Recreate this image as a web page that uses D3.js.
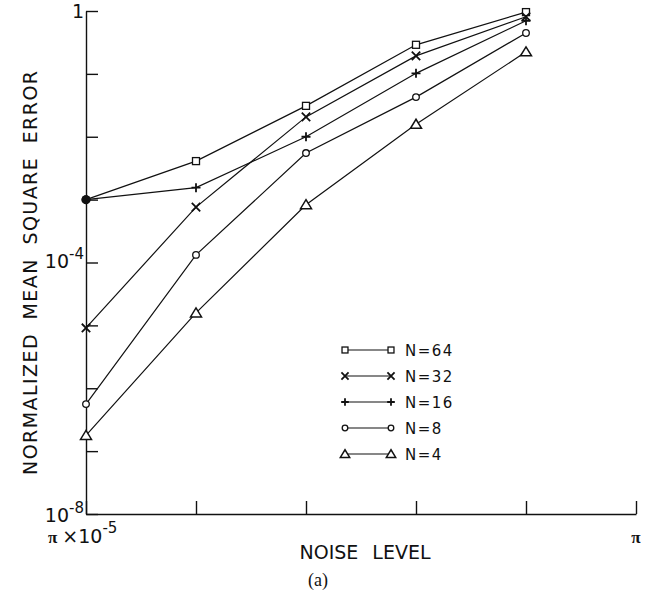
<!DOCTYPE html>
<html><head><meta charset="utf-8">
<script src="https://cdn.jsdelivr.net/npm/d3@7"></script>
<style>body{margin:0;background:#fff}svg{display:block}</style>
</head><body><svg id="c" width="653" height="596"></svg>
<script>
// ---- data ----
const PI = Math.PI;
const noiseLevels = [PI*1e-5, PI*1e-4, PI*1e-3, PI*1e-2, PI*1e-1];
const seriesNames = ["N=64", "N=32", "N=16", "N=8", "N=4"];
const markerTypes = ["square", "x", "plus", "circle", "triangle"];
const mse64 = [1.0e-3, 4.1e-3, 3.1e-2, 0.29, 0.96];
const mse32 = [9.1e-6, 7.6e-4, 2.07e-2, 0.193, 0.81];
const mse16 = [1.0e-3, 1.55e-3, 1.0e-2, 0.102, 0.70];
const mse8  = [5.6e-7, 1.32e-4, 5.5e-3, 4.27e-2, 0.447];
const mse4  = [1.78e-7, 1.58e-5, 8.3e-4, 1.58e-2, 0.224];
const yTickValues = [1e-8, 1e-7, 1e-6, 1e-5, 1e-4, 1e-3, 1e-2, 1e-1, 1];
const xTickValues = [PI*1e-5, PI*1e-4, PI*1e-3, PI*1e-2, PI*1e-1, PI];
const yLabels = [{v:1, base:"1", exp:""}, {v:1e-4, base:"10", exp:"-4"}, {v:1e-8, base:"10", exp:"-8"}];

const seriesValues = [mse64, mse32, mse16, mse8, mse4];

// ---- chart ----
const svg = d3.select("#c");
const ink = "#111";
const x = d3.scaleLog().domain([PI*1e-5, PI]).range([86, 636]);
const y = d3.scaleLog().domain([1e-8, 1]).range([514, 11]);

const yAxis = svg.append("g").attr("transform", "translate(86,0)")
  .call(d3.axisRight(y).tickValues(yTickValues).tickSize(12).tickSizeOuter(0).tickFormat(""));
const xAxis = svg.append("g").attr("transform", "translate(0,514)")
  .call(d3.axisTop(x).tickValues(xTickValues).tickSize(13).tickSizeOuter(0).tickFormat(""));
[yAxis, xAxis].forEach(g => {
  g.selectAll("path,line").attr("stroke", ink).attr("stroke-width", 1.4);
});

const sans = "DejaVu Sans, sans-serif";

// y tick labels
yLabels.forEach(l => {
  const t = svg.append("text").attr("font-family", sans).attr("fill", ink)
    .attr("text-anchor", "end")
    .attr("x", 84).attr("y", y(l.v) + (l.v === 1 ? 7 : (l.v === 1e-8 ? 8 : 5)))
    .attr("font-size", 19);
  t.append("tspan").text(l.base);
  if (l.exp) t.append("tspan").attr("font-size", 15).attr("dy", -9).text(l.exp);
});

// x tick labels
const xl = svg.append("text").attr("fill", ink).attr("x", 48).attr("y", 543);
xl.append("tspan").attr("font-family", "Liberation Serif, serif").attr("font-weight", "bold").attr("font-size", 17).text("π");
xl.append("tspan").attr("font-family", sans).attr("font-size", 19).attr("dx", 5).text("×10");
xl.append("tspan").attr("font-family", sans).attr("font-size", 15).attr("dy", -10).text("-5");
svg.append("text").attr("fill", ink).attr("x", x(PI)).attr("y", 543).attr("text-anchor", "middle")
  .attr("font-family", "Liberation Serif, serif").attr("font-weight", "bold").attr("font-size", 17).text("π");

// axis titles
svg.append("text").attr("fill", ink).attr("font-family", sans).attr("font-size", 19)
  .attr("x", 365).attr("y", 559).attr("text-anchor", "middle").attr("word-spacing", 8)
  .text("NOISE LEVEL");
svg.append("text").attr("fill", ink).attr("font-family", "Liberation Serif, serif").attr("font-size", 18)
  .attr("x", 318).attr("y", 586).attr("text-anchor", "middle").text("(a)");
svg.append("text").attr("fill", ink).attr("font-family", sans).attr("font-size", 19)
  .attr("transform", "translate(37,273) rotate(-90)").attr("text-anchor", "middle")
  .attr("textLength", 404).attr("lengthAdjust", "spacing").attr("word-spacing", 6)
  .text("NORMALIZED MEAN SQUARE ERROR");

// markers
function marker(g, type, cx, cy, s) {
  const sw = 1.3;
  if (type === "square") {
    g.append("rect").attr("x", cx - 3.5*s).attr("y", cy - 3.5*s).attr("width", 7*s).attr("height", 7*s)
      .attr("fill", "#fff").attr("stroke", ink).attr("stroke-width", sw);
  } else if (type === "x") {
    const r = 4.2*s;
    g.append("path").attr("d", `M${cx-r},${cy-r}L${cx+r},${cy+r}M${cx-r},${cy+r}L${cx+r},${cy-r}`)
      .attr("stroke", ink).attr("stroke-width", 1.8);
  } else if (type === "plus") {
    const r = 4.5*s;
    g.append("path").attr("d", `M${cx-r},${cy}L${cx+r},${cy}M${cx},${cy-r}L${cx},${cy+r}`)
      .attr("stroke", ink).attr("stroke-width", 1.8);
  } else if (type === "circle") {
    g.append("circle").attr("cx", cx).attr("cy", cy).attr("r", 3.3*s)
      .attr("fill", "#fff").attr("stroke", ink).attr("stroke-width", sw);
  } else if (type === "triangle") {
    const w = 5.5*s;
    g.append("path").attr("d", `M${cx},${cy-5*s}L${cx+w},${cy+4*s}L${cx-w},${cy+4*s}Z`)
      .attr("fill", "#fff").attr("stroke", ink).attr("stroke-width", 1.5);
  }
}

const line = d3.line().x((d, i) => x(noiseLevels[i])).y(d => y(d));
const gLines = svg.append("g");
const gMarks = svg.append("g");
seriesValues.forEach((vals, si) => {
  gLines.append("path").attr("d", line(vals)).attr("fill", "none").attr("stroke", ink).attr("stroke-width", 1.2);
});
seriesValues.forEach((vals, si) => {
  vals.forEach((v, i) => {
    // points shared by several series are drawn as a filled dot
    const shared = seriesValues.filter((o, oi) => oi !== si && o[i] === v).length > 0;
    if (shared) {
      gMarks.append("circle").attr("cx", x(noiseLevels[i])).attr("cy", y(v)).attr("r", 4.5).attr("fill", ink);
    } else {
      marker(gMarks, markerTypes[si], x(noiseLevels[i]), y(v), 1);
    }
  });
});

// legend
const legend = svg.append("g");
seriesNames.forEach((name, i) => {
  const ly = 350 + i * 26;
  legend.append("line").attr("x1", 345).attr("x2", 391).attr("y1", ly).attr("y2", ly)
    .attr("stroke", ink).attr("stroke-width", 1.2);
  marker(legend, markerTypes[i], 345, ly, 0.85);
  marker(legend, markerTypes[i], 391, ly, 0.85);
  legend.append("text").attr("x", 405).attr("y", ly + 6).attr("fill", ink)
    .attr("font-family", sans).attr("font-size", 15).attr("letter-spacing", 1.5).text(name);
});
</script></body></html>
